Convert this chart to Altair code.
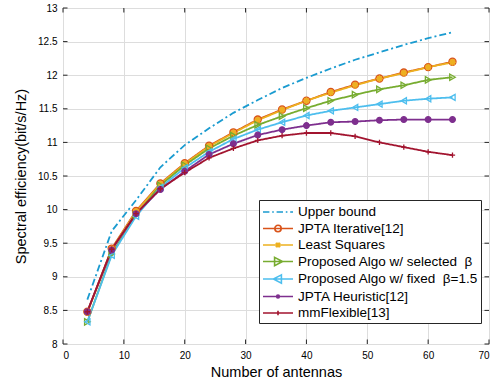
import altair as alt
import pandas as pd
import json

antennas = [4, 8, 12, 16, 20, 24, 28, 32, 36, 40, 44, 48, 52, 56, 60, 64]

upper_bound = [8.66, 9.68, 10.14, 10.63, 10.96, 11.21, 11.44, 11.63, 11.81, 11.96, 12.10, 12.23, 12.34, 12.45, 12.55, 12.64]
jpta_iterative = [8.48, 9.42, 9.98, 10.39, 10.69, 10.95, 11.15, 11.34, 11.49, 11.62, 11.75, 11.86, 11.95, 12.04, 12.12, 12.20]
least_squares = [8.47, 9.41, 9.97, 10.38, 10.68, 10.94, 11.14, 11.33, 11.48, 11.62, 11.74, 11.85, 11.95, 12.03, 12.12, 12.19]
proposed_selected = [8.33, 9.34, 9.92, 10.36, 10.66, 10.91, 11.10, 11.26, 11.39, 11.51, 11.62, 11.71, 11.79, 11.85, 11.93, 11.97]
proposed_fixed = [8.33, 9.32, 9.90, 10.33, 10.62, 10.86, 11.05, 11.19, 11.30, 11.40, 11.47, 11.52, 11.57, 11.62, 11.65, 11.67]
jpta_heuristic = [8.48, 9.40, 9.94, 10.30, 10.57, 10.82, 10.98, 11.11, 11.19, 11.25, 11.30, 11.31, 11.33, 11.34, 11.34, 11.34]
mmflexible = [8.48, 9.41, 9.94, 10.31, 10.55, 10.77, 10.91, 11.03, 11.10, 11.14, 11.14, 11.09, 11.00, 10.93, 10.86, 10.81]

series_names = [
    "Upper bound",
    "JPTA Iterative[12]",
    "Least Squares",
    "Proposed Algo w/ selected\u00a0\u00a0β",
    "Proposed Algo w/ fixed\u00a0\u00a0β=1.5",
    "JPTA Heuristic[12]",
    "mmFlexible[13]",
]
series_values = [upper_bound, jpta_iterative, least_squares, proposed_selected,
                 proposed_fixed, jpta_heuristic, mmflexible]
series_colors = ["#1A9BD0", "#D95319", "#EDB120", "#77AC30", "#4DBEEE", "#7E2F8E", "#A2142F"]

x_ticks = [0, 10, 20, 30, 40, 50, 60, 70]
y_ticks = [8, 8.5, 9, 9.5, 10, 10.5, 11, 11.5, 12, 12.5, 13]

rows = []
for order, (name, vals) in enumerate(zip(series_names, series_values)):
    for a, v in zip(antennas, vals):
        rows.append({"series": name, "antennas": a, "se": v, "order": order})
df = pd.DataFrame(rows)
df_pts = df[df["series"] != "Upper bound"]
pt_names = series_names[1:]

W, H = 426, 336
FONT = "Liberation Sans"
TXT = "#262626"

xscale = alt.Scale(domain=[0, 70], nice=False, zero=False)
yscale = alt.Scale(domain=[8, 13], nice=False, zero=False)

xaxis = alt.Axis(values=x_ticks, title="Number of antennas", ticks=False, domain=False,
                 grid=True, labelPadding=6, titlePadding=5,
                 titleFontWeight="normal", titleFont=FONT, titleFontSize=14.5)
yaxis = alt.Axis(values=y_ticks, format="~g", title="Spectral efficiency(bit/s/Hz)",
                 ticks=False, domain=False, grid=True, labelPadding=6, titlePadding=9,
                 labelOverlap=False,
                 titleFontWeight="normal", titleFont=FONT, titleFontSize=14.5)
X = alt.X("antennas:Q", scale=xscale, axis=xaxis)
Y = alt.Y("se:Q", scale=yscale, axis=yaxis)

lines = alt.Chart(df).mark_line(strokeWidth=1.8, clip=True).encode(
    x=X, y=Y,
    stroke=alt.Stroke("series:N", scale=alt.Scale(domain=series_names, range=series_colors), legend=None),
    strokeDash=alt.StrokeDash("series:N", scale=alt.Scale(domain=series_names,
                              range=[[7, 3, 2, 3]] + [[1, 0]] * 6), legend=None),
    order=alt.Order("order:Q"),
)

pt_shapes = [
    "circle",
    "M-1,0L1,0M0,-1L0,1M-0.7,-0.7L0.7,0.7M-0.7,0.7L0.7,-0.7",
    "triangle-right",
    "triangle-left",
    "circle",
    "M-1,0L1,0M0,-1L0,1",
]
pt_sizes = [50, 28, 80, 80, 28, 40]
pt_fills = ["#F2A33A", "transparent", "transparent", "transparent", "#7E2F8E", "transparent"]

points = alt.Chart(df_pts).mark_point(strokeWidth=1.3, opacity=1).encode(
    x=X, y=Y,
    stroke=alt.Stroke("series:N", scale=alt.Scale(domain=series_names, range=series_colors), legend=None),
    fill=alt.Fill("series:N", scale=alt.Scale(domain=pt_names, range=pt_fills), legend=None),
    shape=alt.Shape("series:N", scale=alt.Scale(domain=pt_names, range=pt_shapes), legend=None),
    size=alt.Size("series:N", scale=alt.Scale(domain=pt_names, range=pt_sizes), legend=None),
    order=alt.Order("order:Q"),
)

# legend symbols: unit = 8 px (symbolSize 256); line spans -1..2.75 units (30 px), marker at 0.875
legend_paths = [
    "M-1,0L-0.2,0M0.15,0L0.35,0M0.7,0L1.5,0M1.85,0L2.05,0M2.4,0L2.75,0",
    "M-1,0L2.75,0M0.475,0A0.4,0.4 0 1,0 1.275,0A0.4,0.4 0 1,0 0.475,0",
    "M-1,0L2.75,0M0.6,-0.27L1.15,0.27M0.6,0.27L1.15,-0.27M0.875,-0.32L0.875,0.32",
    "M-1,0L2.75,0M0.45,-0.52L1.45,0L0.45,0.52Z",
    "M-1,0L2.75,0M1.3,-0.52L0.3,0L1.3,0.52Z",
    "M-1,0L2.75,0M0.7,0A0.175,0.175 0 1,0 1.05,0A0.175,0.175 0 1,0 0.7,0",
    "M-1,0L2.75,0M0.875,-0.27L0.875,0.27",
]

stroke_expr = "{}[indexof({}, datum.value)]".format(
    json.dumps(series_colors), json.dumps(series_names, ensure_ascii=False))

leg = alt.Legend(title=None, orient="none", legendX=196, legendY=192,
                 labelFont=FONT, labelFontSize=13.5, labelColor="#000000",
                 symbolSize=256, symbolStrokeWidth=1.6,
                 symbolStrokeColor=alt.ExprRef(stroke_expr),
                 symbolFillColor="transparent", symbolOpacity=1,
                 strokeColor=TXT, fillColor="#FFFFFF", padding=3, rowPadding=0.5,
                 labelOffset=18, labelLimit=300, offset=0)

legend_layer = alt.Chart(df).mark_point(filled=False, strokeWidth=1.6).encode(
    x=X, y=Y,
    shape=alt.Shape("series:N", scale=alt.Scale(domain=series_names, range=legend_paths), legend=leg),
).transform_filter("datum.antennas < 0")

# inside tick marks (MATLAB style box)
xt = pd.DataFrame({"antennas": x_ticks})
yt = pd.DataFrame({"se": y_ticks})
tick_len = 4.5
xb = alt.Chart(xt).mark_rule(color=TXT, strokeWidth=1).encode(
    x=X, y=alt.value(H), y2=alt.value(H - tick_len))
xtop = alt.Chart(xt).mark_rule(color=TXT, strokeWidth=1).encode(
    x=X, y=alt.value(0), y2=alt.value(tick_len))
yl = alt.Chart(yt).mark_rule(color=TXT, strokeWidth=1).encode(
    y=Y, x=alt.value(0), x2=alt.value(tick_len))
yr = alt.Chart(yt).mark_rule(color=TXT, strokeWidth=1).encode(
    y=Y, x=alt.value(W), x2=alt.value(W - tick_len))

chart = alt.layer(lines, points, xb, xtop, yl, yr, legend_layer).resolve_scale(
    shape="independent", size="independent"
).properties(
    width=W, height=H,
    padding={"left": 63, "top": 8, "right": 9, "bottom": 44},
    autosize=alt.AutoSizeParams(type="none"),
).configure_view(
    stroke=TXT, strokeWidth=1.2
).configure_axis(
    labelFont=FONT, labelFontSize=12.5, labelColor=TXT,
    titleFont=FONT, titleFontSize=14.5, titleFontWeight="normal", titleColor=TXT,
    gridColor="#E3E3E3", gridWidth=1,
).configure(background="white")

chart.save("out.html", embed_options={"renderer": "svg", "actions": False})
